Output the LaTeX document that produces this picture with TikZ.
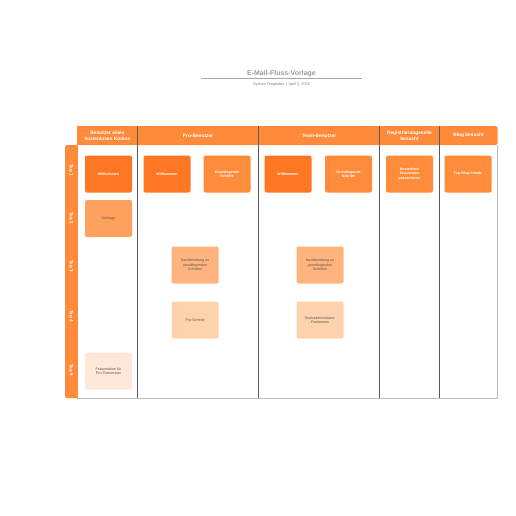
\documentclass[tikz,border=0pt]{standalone}
\usepackage{fontspec}
\setmainfont{Liberation Sans}
\definecolor{hdr}{HTML}{FF8A3A}
\definecolor{dark}{HTML}{FF7722}
\definecolor{mid}{HTML}{FF8C3A}
\definecolor{lt1}{HTML}{FFA15C}
\definecolor{lt2}{HTML}{FFB47E}
\definecolor{lt3}{HTML}{FFD2AE}
\definecolor{lt4}{HTML}{FFE8D9}
\definecolor{lane}{HTML}{5A5A5A}
\definecolor{frame}{HTML}{BDBDBD}
\definecolor{txt}{HTML}{555555}
\begin{document}
\begin{tikzpicture}[x=1pt,y=-1pt,
  card/.style={rounded corners=2pt, minimum width=47pt, minimum height=37pt, inner sep=1pt, text width=44pt, align=center, font=\fontsize{3.6}{4.4}\selectfont},
  cardw/.style={card, text=white, font=\fontsize{3.6}{4.4}\selectfont\bfseries},
  cardg/.style={card, text=txt},
  hdrtext/.style={text=white, font=\fontsize{4.8}{5.8}\selectfont\bfseries, align=center},
  tagtext/.style={text=white, font=\fontsize{4.5}{5}\selectfont\bfseries, rotate=-90},
  lanel/.style={draw=lane, line width=0.8pt}]
\useasboundingbox (0,0) rectangle (516,516);
% title
\node[text=gray!80, font=\fontsize{7}{8}\selectfont\bfseries] (title) at (281.5,73.5) {E-Mail-Fluss-Vorlage};
\draw[gray!70, line width=0.5pt] (201,78.5) -- (362,78.5);
\node[text=gray, font=\fontsize{3.8}{4.5}\selectfont] (sub) at (281.5,84.5) {System Templates \,|\, April 3, 2025};
% frame
\fill[white] (77,145) rectangle (497,398);
\draw[frame, line width=0.7pt] (77,398) -- (497,398) -- (497,145);
% header
\fill[hdr, rounded corners=1.5pt] (77,126) rectangle (497.5,145);
\fill[hdr] (77,126) rectangle (80,145);
% strip
\fill[hdr, rounded corners=2pt] (65,145) rectangle (77.5,398);
\fill[hdr] (72,145) rectangle (77.5,398);
% lane lines
\foreach \xx in {137.5,258.5,379.5,439.5} {\draw[lanel] (\xx,126) -- (\xx,398);}
% header texts
\node[hdrtext] (h1) at (107.5,135.5) {Benutzer eines\\kostenlosen Kontos};
\node[hdrtext] (h2) at (198,135.5) {Pro-Benutzer};
\node[hdrtext] (h3) at (319,135.5) {Team-Benutzer};
\node[hdrtext] (h4) at (409.5,135.5) {Registrierungsseite\\besucht};
\node[hdrtext] (h5) at (468.5,135.5) {Blog besucht};
% tags
\node[tagtext] (t1) at (71,170) {Tag 1};
\node[tagtext] (t2) at (71,218) {Tag 2};
\node[tagtext] (t3) at (71,266) {Tag 3};
\node[tagtext] (t4) at (71,316) {Tag 4};
\node[tagtext] (t5) at (71,370) {Tag 5};
% row 1
\node[cardw, fill=dark] (a1) at (108.5,174) {Willkommen};
\node[cardw, fill=dark] (b1) at (167,174) {Willkommen};
\node[cardw, fill=mid] (c1) at (227,174) {Grundlegende\\Schritte};
\node[cardw, fill=dark] (d1) at (288,174) {Willkommen};
\node[cardw, fill=mid] (e1) at (348.5,174) {Grundlegende\\Schritte};
\node[cardw, fill=mid] (f1) at (409.5,174) {Kostenlose\\Testversion\\präsentieren};
\node[cardw, fill=mid] (g1) at (468,174) {Top-Blog-Inhalte};
% row 2
\node[cardg, fill=lt1] (a2) at (108.5,218.5) {Umfrage};
% row 3
\node[cardg, fill=lt2] (b3) at (195,265) {Nachbereitung zu\\grundlegenden\\Schritten};
\node[cardg, fill=lt2] (d3) at (320,265) {Nachbereitung zu\\grundlegenden\\Schritten};
% row 4
\node[cardg, fill=lt3] (b4) at (195,320) {Pro-Schritte};
\node[cardg, fill=lt3] (d4) at (320,320) {Teamadministrator-\\Funktionen};
% row 5
\node[cardg, fill=lt4] (a5) at (108.5,371) {Präsentation für\\Pro-Testversion};
\end{tikzpicture}
\end{document}
